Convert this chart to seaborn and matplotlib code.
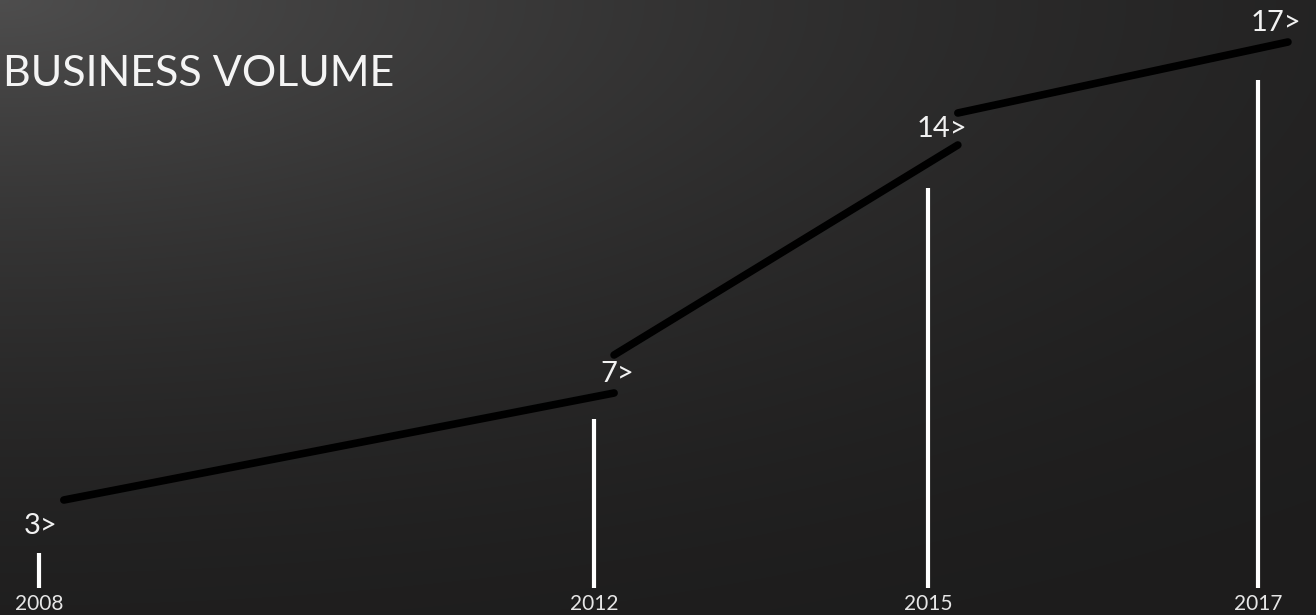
import numpy as np
import pandas as pd
import matplotlib
matplotlib.use("Agg")
import matplotlib.pyplot as plt
import seaborn as sns

# ---------------- data ----------------
years = [2008, 2012, 2015, 2017]
volume_labels = ["3>", "7>", "14>", "17>"]
bar_level = [35, 169, 400, 508]          # white bar heights
trend_start = [88, 233, 475]             # black trend stroke, start level of each piece
trend_end = [195, 443, 546]              # black trend stroke, end level of each piece
title = "BUSINESS VOLUME"

# ---------------- style ----------------
sns.set_theme(style="white")
plt.rcParams["font.family"] = ["Lato", "DejaVu Sans"]

W, H, DPI = 1316, 615, 100
fig = plt.figure(figsize=(W / DPI, H / DPI), dpi=DPI)

# background gradient
bg = fig.add_axes([0, 0, 1, 1], zorder=0)
yy, xx = np.mgrid[0:1:400j, 0:1:800j]
d = np.sqrt((xx * 1.0) ** 2 + (yy * 1.25) ** 2) / np.sqrt(1 + 1.25 ** 2)
v = 29 + 49 * np.clip(1 - d, 0, 1) ** 2.0
img = np.dstack([v, v - 0.6, v - 0.6]) / 255.0
bg.imshow(img, aspect="auto", extent=[0, 1, 0, 1], origin="upper", interpolation="bilinear")
bg.set_axis_off()

ax = fig.add_axes([0, 0, 1, 1], zorder=1)
ax.set_facecolor("none")

# timeline scale (non-uniform spacing between milestones)
knot_year = np.array(years, float)
knot_pos = np.array([0.0, 555.0, 889.0, 1219.0])


def _pw(x, xs, ys):
    x = np.asarray(x, float)
    y = np.interp(x, xs, ys)
    lo_s = (ys[1] - ys[0]) / (xs[1] - xs[0])
    hi_s = (ys[-1] - ys[-2]) / (xs[-1] - xs[-2])
    y = np.where(x < xs[0], ys[0] + (x - xs[0]) * lo_s, y)
    y = np.where(x > xs[-1], ys[-1] + (x - xs[-1]) * hi_s, y)
    return y


ax.set_xscale("function", functions=(lambda x: _pw(x, knot_year, knot_pos),
                                     lambda p: _pw(p, knot_pos, knot_year)))

# white bars
ax.vlines(years, 0, bar_level, color="white", lw=3.0, zorder=3)

# black trend strokes
shift = 0.18
rows = []
for i in range(len(trend_start)):
    rows.append({"seg": i, "x": years[i] + shift, "y": trend_start[i]})
    rows.append({"seg": i, "x": years[i + 1] + shift, "y": trend_end[i]})
trend = pd.DataFrame(rows)
sns.lineplot(data=trend, x="x", y="y", units="seg", estimator=None, color="black",
             lw=5.5, solid_capstyle="round", ax=ax, zorder=4, legend=False)

# value labels
label_offsets = [(2, 27), (23, 45), (14, 59), (18, 57)]
for yr, lvl, lab, off in zip(years, bar_level, volume_labels, label_offsets):
    ax.annotate(lab, (yr, lvl), xytext=off, textcoords="offset pixels",
                ha="center", va="center", fontsize=21, color="#f2f2f2",
                fontweight="normal", zorder=5)

# year labels
for yr in years:
    ax.annotate(str(yr), (yr, 0), xytext=(0, -6), textcoords="offset pixels",
                ha="center", va="top", fontsize=15, color="#e6e6e6", zorder=5)

ax.set_xlim(2007.72, 2017.35)
ax.set_ylim(-27, 588)
ax.set_axis_off()

fig.text(0.002, 1 - 86 / H, title, fontsize=31, color="#f4f4f4",
         fontweight="normal", ha="left", va="baseline")

fig.savefig("out.png", dpi=DPI)
